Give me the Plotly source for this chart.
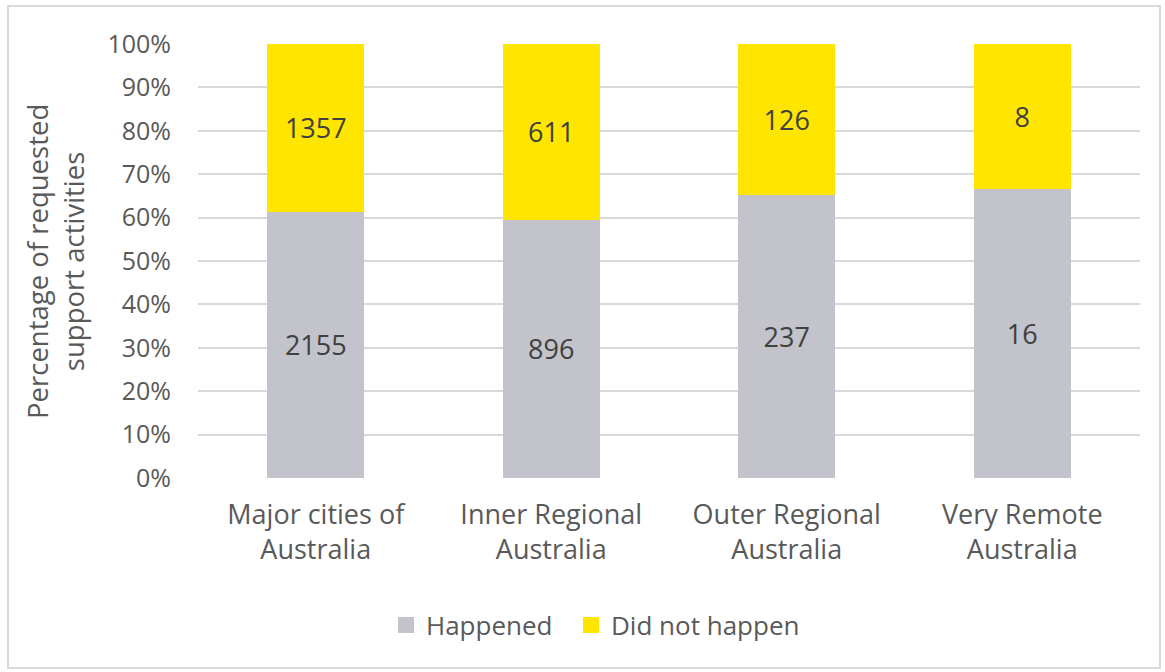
import plotly.graph_objects as go

categories = ["Major cities of<br>Australia", "Inner Regional<br>Australia",
              "Outer Regional<br>Australia", "Very Remote<br>Australia"]
happened = [2155, 896, 237, 16]
did_not_happen = [1357, 611, 126, 8]
tick_vals = [0, 10, 20, 30, 40, 50, 60, 70, 80, 90, 100]
tick_text = [f"{v}%" for v in tick_vals]

FONT = "Open Sans, sans-serif"
TXT = "#595959"
GRAY = "#C3C3CB"
YELLOW = "#FFE600"

fig = go.Figure()
fig.add_trace(go.Bar(
    x=categories, y=happened, name="Happened", showlegend=False,
    marker=dict(color=GRAY, line=dict(width=0)),
    text=[str(v) for v in happened], textposition="inside",
    insidetextanchor="middle", textangle=0,
    textfont=dict(size=27, color="#404040", family=FONT),
))
fig.add_trace(go.Bar(
    x=categories, y=did_not_happen, name="Did not happen", showlegend=False,
    marker=dict(color=YELLOW, line=dict(width=0)),
    text=[str(v) for v in did_not_happen], textposition="inside",
    insidetextanchor="middle", textangle=0,
    textfont=dict(size=27, color="#404040", family=FONT),
))
# legend entries
for nm, col in [("Happened\u00a0\u00a0", GRAY), ("Did not happen", YELLOW)]:
    fig.add_trace(go.Scatter(
        x=[None], y=[None], mode="markers", name=nm,
        marker=dict(symbol="square", size=18, color=col),
    ))

L, R, T, B = 198, 25, 44, 194
W, H = 1165, 672
pw, ph = W - L - R, H - T - B

def px_x(p):
    return (p - L) / pw

def px_y(p):
    return (H - B - p) / ph

fig.update_layout(
    width=W, height=H,
    barmode="stack", barnorm="percent", bargap=0.59,
    margin=dict(l=L, r=R, t=T, b=B),
    paper_bgcolor="white", plot_bgcolor="white",
    font=dict(family=FONT, color=TXT, size=25),
    legend=dict(orientation="h", x=px_x(386), xanchor="left",
                y=px_y(625), yanchor="middle",
                font=dict(size=26, color=TXT, family=FONT),
                itemwidth=30, traceorder="normal"),
    xaxis=dict(showgrid=False, showline=False, zeroline=False,
               tickfont=dict(size=27, color=TXT, family=FONT), ticks="",
               ticklabelstandoff=18),
    yaxis=dict(range=[0, 100], tickvals=tick_vals, ticktext=tick_text,
               showgrid=True, gridcolor="#D9D9D9", gridwidth=2,
               zeroline=False, showline=False, ticks="",
               ticklabelstandoff=26,
               tickfont=dict(size=25, color=TXT, family=FONT)),
    annotations=[dict(
        text="Percentage of requested<br>support activities",
        xref="paper", yref="paper", x=px_x(55), y=px_y(262),
        xanchor="center", yanchor="middle", textangle=-90,
        showarrow=False, font=dict(size=27.5, color=TXT, family=FONT),
    )],
    shapes=[dict(
        type="rect", xref="paper", yref="paper",
        x0=px_x(8), x1=px_x(1160), y0=px_y(668), y1=px_y(6),
        line=dict(color="#D9D9D9", width=2), fillcolor="rgba(0,0,0,0)",
        layer="below",
    )],
)

fig.write_html("out.html", config={"displayModeBar": False},
               post_script="document.body.style.margin='0';")
